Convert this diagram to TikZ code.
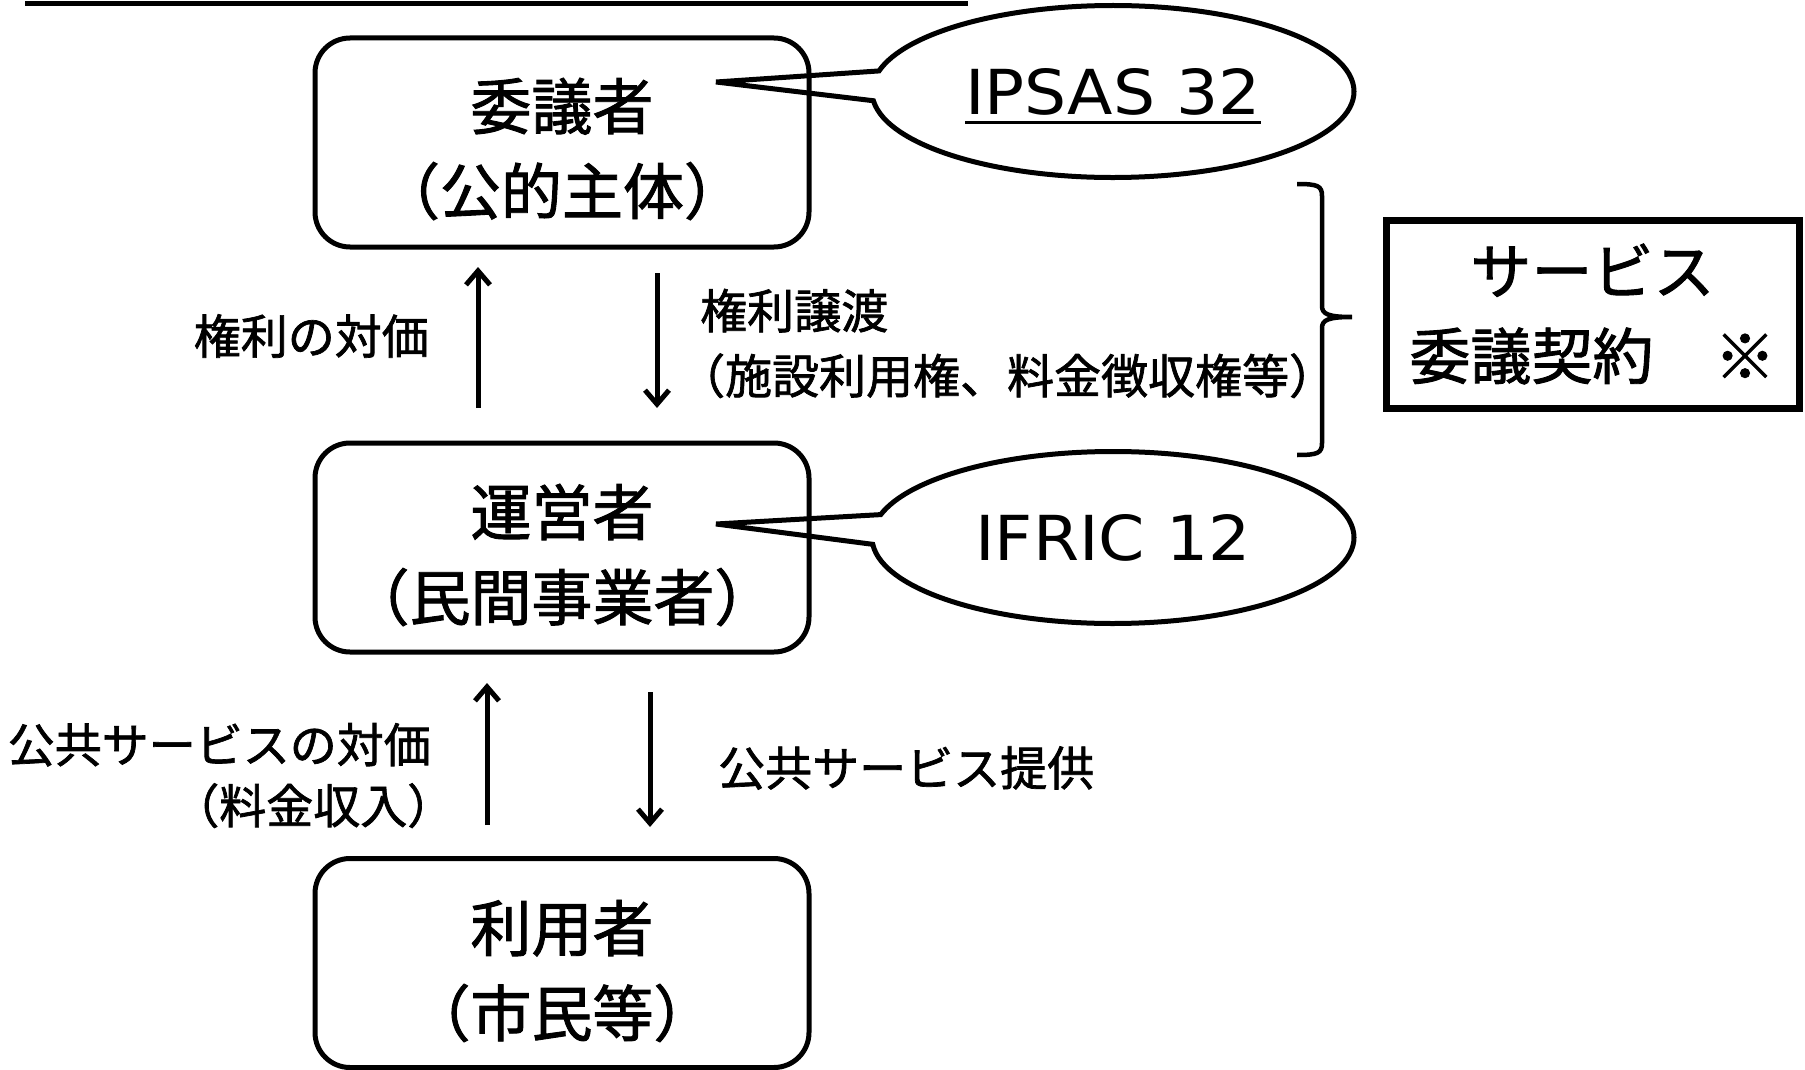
\documentclass[tikz,border=0pt]{standalone}
\usepackage{fontspec}
\setmainfont[FakeBold=1.5]{Noto Sans CJK JP}
\newfontfamily\lat[FakeStretch=1.07]{DejaVu Sans}
\usetikzlibrary{arrows.meta,shapes.callouts}
\newcommand\myuline[1]{\setbox0\hbox{#1}\rlap{\smash{\raisebox{-9.5pt}{\rule{\wd0}{3pt}}}}\box0}
\begin{document}
\begin{tikzpicture}[x=1pt,y=-1pt,
  ibox/.style={draw, line width=5pt, rounded corners=35pt, minimum width=494pt, minimum height=209pt, inner sep=0pt},
  btext/.style={align=center, font=\fontsize{61}{85}\selectfont, inner sep=0pt},
  lbl/.style={font=\fontsize{47}{65}\selectfont, inner sep=0pt},
  flow/.style={line width=5pt, -{Straight Barb[length=14pt,width=24pt]}},
  bubble/.style={ellipse callout, draw, line width=5pt, minimum width=482pt, minimum height=172pt, inner sep=0pt, callout pointer arc=20, font=\lat\fontsize{62}{70}\selectfont},
  brace/.style={line width=4.5pt},
]
\path[fill=white, use as bounding box] (0,0) rectangle (1805,1070);

% top rule (underline of cut-off heading)
\draw[line width=5pt] (25,4) -- (968,4);

% boxes
\node[ibox] (p) at (562,142.5) {};
\node[btext] (pt) at (562,149) {委議者\\（公的主体）};
\node[ibox] (o) at (562,547.5) {};
\node[btext] (ot) at (562,555) {運営者\\（民間事業者）};
\node[ibox] (u) at (562,963) {};
\node[btext] (ut) at (562,971) {利用者\\（市民等）};

% callouts
\node[bubble, callout absolute pointer={(716,82)}] (ipsas) at (1113,91.5) {\myuline{IPSAS 32}};
\node[bubble, callout absolute pointer={(716,524)}] (ifric) at (1113,537.5) {IFRIC 12};

% arrows
\coordinate (a1s) at (478,408); \coordinate (a1e) at (478,267);
\coordinate (a2s) at (657,273); \coordinate (a2e) at (657,408);
\coordinate (a3s) at (487,825); \coordinate (a3e) at (487,683);
\coordinate (a4s) at (650,692); \coordinate (a4e) at (650,827);
\draw[flow] (a1s) -- (a1e);
\draw[flow] (a2s) -- (a2e);
\draw[flow] (a3s) -- (a3e);
\draw[flow] (a4s) -- (a4e);

% labels
\node[lbl, anchor=east] (l1) at (429,336) {権利の対価};
\node[lbl, anchor=west, align=left] (l2) at (700,343.5) {権利譲渡\\\hspace*{-0.47em}（施設利用権、料金徴収権等）};
\node[lbl, anchor=east, align=right, font=\fontsize{47}{61}\selectfont] (l3) at (431,775.5) {公共サービスの対価\\（料金収入）\hspace*{-0.5em}};
\node[lbl, anchor=west] (l4) at (718,768) {公共サービス提供};

% brace
\draw[brace] (1297,184) .. controls (1318,184) and (1322,186) .. (1322,196) -- (1322,306)
  .. controls (1322,314) and (1328,317) .. (1352,317)
  .. controls (1328,317) and (1322,320) .. (1322,328) -- (1322,443)
  .. controls (1322,453) and (1318,455) .. (1297,455);

% contract box
\node[draw, line width=7pt, minimum width=413pt, minimum height=188pt, inner sep=0pt, align=center, font=\fontsize{61}{85}\selectfont] (sc) at (1592.5,314) {サービス\\委議契約　※};
\end{tikzpicture}
\end{document}
